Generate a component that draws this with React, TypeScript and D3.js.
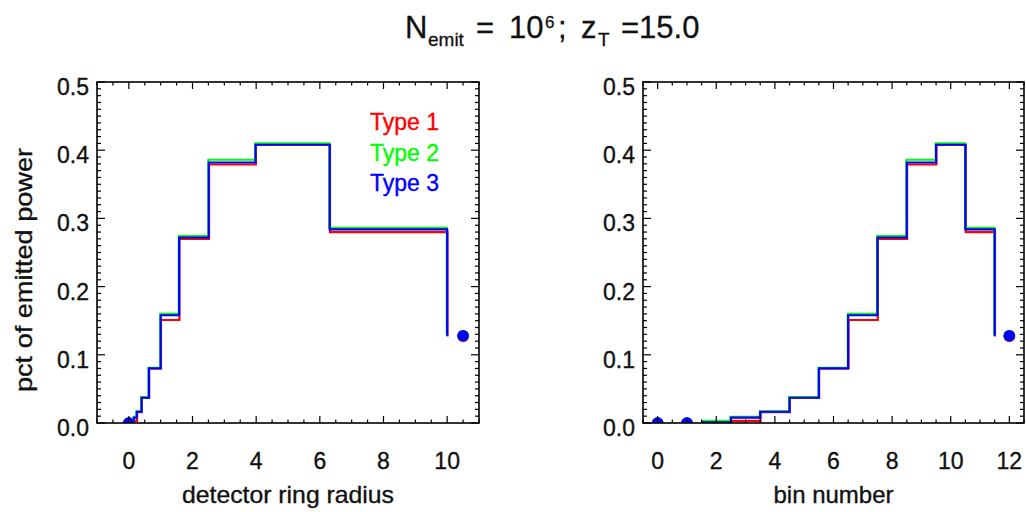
import React from "react";
import * as d3 from "d3";

// detector ring edges (left panel) and bin numbers (right panel)
const ringEdges = [0.1, 0.16, 0.25, 0.4, 0.63, 1.0, 1.58, 2.51, 3.98, 6.31, 10.0];
const binNumbers = [2, 3, 4, 5, 6, 7, 8, 9, 10, 11];

// pct of emitted power per bin
const type1 = [0.001, 0.003, 0.016, 0.037, 0.08, 0.151, 0.27, 0.379, 0.408, 0.28];
const type2 = [0.003, 0.009, 0.017, 0.038, 0.081, 0.16, 0.274, 0.386, 0.41, 0.286];
const type3 = [0.001, 0.008, 0.0165, 0.037, 0.08, 0.158, 0.272, 0.382, 0.408, 0.284];
const overflow = [0.127, 0.128, 0.128];

// points drawn as dots: inner bins (at zero) and the overflow bin
const innerRadius = [0];
const innerBins = [0, 1];
const innerValue = 0;
const overflowRadius = 10.5;
const overflowBin = 12;

const typeNames = ["Type 1", "Type 2", "Type 3"];
const typeColors = ["#ff0000", "#00ff00", "#0000ff"];

const radiusTicks = [0, 2, 4, 6, 8, 10];
const binTicks = [0, 2, 4, 6, 8, 10, 12];
const yTicks = [0, 0.1, 0.2, 0.3, 0.4, 0.5];

const TOP = 82;
const BOTTOM = 423;
const FONT = "'Liberation Sans', Arial, Helvetica, sans-serif";

function Panel({ id, left, right, domain, ticks, stepXs, dotXs, overflowX, xTitle, yTitle, legend }) {
  const x = d3.scaleLinear().domain(domain).range([left, right]);
  const y = d3.scaleLinear().domain([0, 0.5]).range([BOTTOM, TOP]);
  const line = d3
    .line<[number, number]>()
    .x((d) => x(d[0]))
    .y((d) => y(d[1]))
    .curve(d3.curveStepAfter);

  const series = [type1, type2, type3];
  const xMinor = d3.range(domain[0], domain[1] + 1e-9, 0.5);
  const yMinor = d3.range(0, 0.5 + 1e-9, 0.01);

  return (
    <g>
      <defs>
        <clipPath id={id}>
          <rect x={left} y={TOP} width={right - left} height={BOTTOM - TOP} />
        </clipPath>
      </defs>
      <g clipPath={`url(#${id})`}>
        {series.map((vals, k) => {
          const pts: [number, number][] = stepXs.map((sx, i) => [
            sx,
            i < vals.length ? vals[i] : overflow[k],
          ]);
          return (
            <path
              key={k}
              d={line(pts)}
              fill="none"
              stroke={typeColors[k]}
              strokeWidth={2.2}
              transform={`translate(${k === 0 ? 0.3 : k === 1 ? -0.3 : 0},0)`}
            />
          );
        })}
        {typeColors.map((c, k) => (
          <g key={k} fill={c}>
            {dotXs.map((dx, i) => (
              <circle key={i} cx={x(dx)} cy={y(innerValue)} r={5.8} />
            ))}
            <circle cx={x(overflowX)} cy={y(overflow[k])} r={5.8} />
          </g>
        ))}
      </g>
      {/* ticks */}
      <g stroke="#000" strokeWidth={1.2}>
        {xMinor.map((t, i) => {
          const major = ticks.some((m) => Math.abs(m - t) < 1e-6);
          const len = major ? 7 : 3.5;
          return (
            <g key={i}>
              <line x1={x(t)} x2={x(t)} y1={BOTTOM} y2={BOTTOM - len} />
              <line x1={x(t)} x2={x(t)} y1={TOP} y2={TOP + len} />
            </g>
          );
        })}
        {yMinor.map((t, i) => {
          const major = Math.abs(t * 10 - Math.round(t * 10)) < 1e-6;
          const len = major ? 8 : 4;
          return (
            <g key={i}>
              <line x1={left} x2={left + len} y1={y(t)} y2={y(t)} />
              <line x1={right} x2={right - len} y1={y(t)} y2={y(t)} />
            </g>
          );
        })}
      </g>
      <rect
        x={left}
        y={TOP}
        width={right - left}
        height={BOTTOM - TOP}
        fill="none"
        stroke="#000"
        strokeWidth={1.6}
      />
      <g fontFamily={FONT} fontSize={23} fill="#111" stroke="#111" strokeWidth={0.35}>
        {ticks.map((t) => (
          <text key={t} x={x(t)} y={469} textAnchor="middle">
            {t}
          </text>
        ))}
        {yTicks.map((t) => (
          <text key={t} x={left - 8} y={y(t) + 13} textAnchor="end">
            {t.toFixed(1)}
          </text>
        ))}
        <text
          x={(left + right) / 2}
          y={503}
          textAnchor="middle"
          fontSize={24}
          textLength={xTitle.length > 12 ? 212 : undefined}
          lengthAdjust="spacingAndGlyphs"
        >
          {xTitle}
        </text>
        {yTitle && (
          <text
            transform={`translate(32,270) rotate(-90)`}
            textAnchor="middle"
            fontSize={24}
            textLength={244}
            lengthAdjust="spacingAndGlyphs"
          >
            {yTitle}
          </text>
        )}
      </g>
      {legend && (
        <g fontFamily={FONT} fontSize={23} textAnchor="end" strokeWidth={0.35}>
          {typeNames.map((n, k) => (
            <text key={n} x={439} y={130 + k * 30.5} fill={typeColors[k]} stroke={typeColors[k]}>
              {n}
            </text>
          ))}
        </g>
      )}
    </g>
  );
}

export default function App() {
  const binSteps = [...binNumbers.map((b) => b - 0.5), binNumbers[binNumbers.length - 1] + 0.5];
  return (
    <svg
      width={1026}
      height={512}
      style={{ position: "absolute", left: 0, top: 0, background: "#fff" }}
    >
      <text x={405} y={38} fontFamily={FONT} fontSize={31} fill="#111" stroke="#111" strokeWidth={0.3}>
        <tspan>N</tspan>
        <tspan x={428} y={46} fontSize={19}>emit</tspan>
        <tspan x={476} y={38}>=</tspan>
        <tspan x={509} y={38}>10</tspan>
        <tspan x={545} y={28} fontSize={17}>6</tspan>
        <tspan x={558} y={38}>;</tspan>
        <tspan x={581} y={38}>z</tspan>
        <tspan x={598} y={46} fontSize={19}>T</tspan>
        <tspan x={621} y={38}>=15.0</tspan>
      </text>
      <Panel
        id="clipL"
        left={97}
        right={479}
        domain={[-1, 11]}
        ticks={radiusTicks}
        stepXs={ringEdges}
        dotXs={innerRadius}
        overflowX={overflowRadius}
        xTitle="detector ring radius"
        yTitle="pct of emitted power"
        legend={true}
      />
      <Panel
        id="clipR"
        left={643}
        right={1024}
        domain={[-0.5, 12.5]}
        ticks={binTicks}
        stepXs={binSteps}
        dotXs={innerBins}
        overflowX={overflowBin}
        xTitle="bin number"
        yTitle={null}
        legend={false}
      />
    </svg>
  );
}
